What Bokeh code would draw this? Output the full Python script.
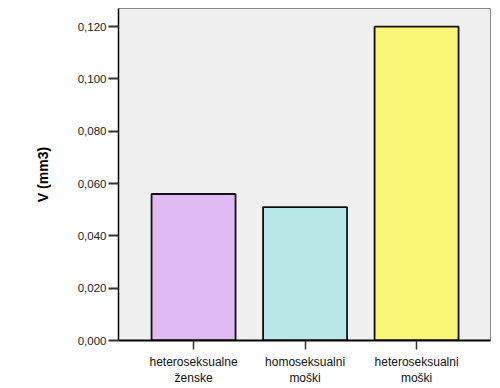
from bokeh.plotting import figure
from bokeh.models import Range1d, FixedTicker, CustomJSTickFormatter, ColumnDataSource
from bokeh.embed import file_html
from bokeh.resources import INLINE

categories = ["heteroseksualne\nženske", "homoseksualni\nmoški", "heteroseksualni\nmoški"]
values = [0.056, 0.051, 0.120]
colors = ["#dfbaf3", "#b8e8e8", "#fbf776"]
y_ticks = [0.0, 0.02, 0.04, 0.06, 0.08, 0.10, 0.12]

xs = list(range(1, len(categories) + 1))
src = ColumnDataSource(dict(x=xs, top=values, color=colors))

p = figure(width=492, height=388, output_backend="svg", toolbar_location=None,
           x_range=Range1d(0.327, 3.663), y_range=Range1d(0, 0.1269),
           min_border_left=118, min_border_right=2, min_border_top=8, min_border_bottom=48)
p.background_fill_color = "#f0f0f0"
p.border_fill_color = "white"
p.outline_line_color = "#888888"
p.outline_line_width = 1
p.grid.visible = False

p.vbar(x="x", top="top", width=0.753, bottom=0, source=src, fill_color="color",
       line_color="#111111", line_width=1.8)

font = "Liberation Sans"
p.yaxis.ticker = FixedTicker(ticks=y_ticks)
p.yaxis.formatter = CustomJSTickFormatter(code="return tick.toFixed(3).replace('.', ',');")
p.yaxis.minor_tick_line_color = None
p.yaxis.major_tick_out = 10
p.yaxis.major_tick_in = 0
p.yaxis.major_tick_line_color = "#333333"
p.yaxis.major_tick_line_width = 2
p.yaxis.axis_line_color = "black"
p.yaxis.axis_line_width = 1.5
p.yaxis.major_label_text_font = font
p.yaxis.major_label_text_font_size = "11.5px"
p.yaxis.major_label_text_color = "#222222"
p.yaxis.major_label_standoff = 2
p.yaxis.axis_label = "V (mm3)"
p.yaxis.axis_label_text_font = font
p.yaxis.axis_label_text_font_size = "14px"
p.yaxis.axis_label_text_font_style = "bold"
p.yaxis.axis_label_text_color = "black"
p.yaxis.axis_label_standoff = 24

p.xaxis.ticker = FixedTicker(ticks=xs)
p.xaxis.major_label_overrides = {x: c for x, c in zip(xs, categories)}
p.xaxis.minor_tick_line_color = None
p.xaxis.major_tick_out = 9
p.xaxis.major_tick_in = 0
p.xaxis.major_tick_line_color = "#333333"
p.xaxis.major_tick_line_width = 1.5
p.xaxis.axis_line_color = "black"
p.xaxis.axis_line_width = 2
p.xaxis.major_label_text_font = font
p.xaxis.major_label_text_font_size = "12px"
p.xaxis.major_label_text_color = "#111111"
p.xaxis.major_label_standoff = 5

open("out.html", "w").write(file_html(p, INLINE))
